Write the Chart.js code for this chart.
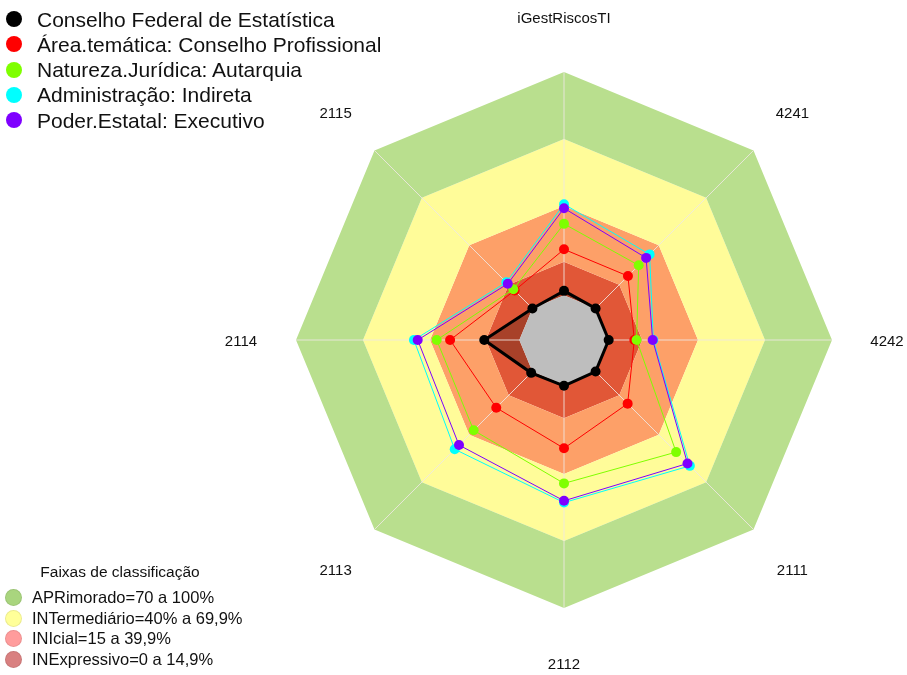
<!DOCTYPE html>
<html>
<head>
<meta charset="utf-8">
<script src="https://cdn.jsdelivr.net/npm/chart.js@4.4.0/dist/chart.umd.min.js"></script>
<style>
  html, body { margin: 0; padding: 0; background: #fff; }
  #wrap { position: relative; width: 907px; height: 675px; font-family: Arial, "Liberation Sans", sans-serif; color: #111; }
  #chart { position: absolute; left: 0; top: 0; }
  .legend { position: absolute; left: 0; }
  .legend .row { position: relative; white-space: nowrap; }
  .legend .dot { position: absolute; border-radius: 50%; }
  #series { top: 6.5px; font-size: 21px; }
  #series .row { height: 25.3px; line-height: 25.3px; padding-left: 37px; }
  #series .dot { left: 6px; top: 4.6px; width: 16px; height: 16px; }
  #bands { top: 558px; font-size: 16.5px; }
  #bands .title { width: 240px; text-align: center; height: 29px; line-height: 27px; font-size: 15.5px; }
  #bands .row { height: 20.5px; line-height: 20.5px; padding-left: 32px; }
  #bands .dot { left: 5px; top: 2px; width: 17px; height: 17px; box-sizing: border-box; border: 1px solid rgba(0,0,0,0.08); }
</style>
</head>
<body>
<div id="wrap">
  <canvas id="chart" width="907" height="675"></canvas>
  <div id="series" class="legend"></div>
  <div id="bands" class="legend"></div>
</div>
<script>
// eixos do radar, em sentido horário a partir do topo
const labels = ['iGestRiscosTI', '4241', '4242', '2111', '2112', '2113', '2114', '2115'];

const seriesNames = [
  'Conselho Federal de Estatística',
  'Área.temática: Conselho Profissional',
  'Natureza.Jurídica: Autarquia',
  'Administração: Indireta',
  'Poder.Estatal: Executivo'
];
const seriesColors = ['#000000', '#FF0000', '#7FFF00', '#00FFFF', '#7F00FF'];

const conselhoFederal = [2, 0, 0, 0, 0.5, 0.8, 15.7, 0];
const conselhoProfissional = [20.6, 20.5, 11.5, 20.3, 28.5, 22.9, 31, 11.3];
const autarquia = [32, 27.3, 12.5, 51, 44.2, 37.2, 37, 12.1];
const indireta = [40.8, 34.2, 20, 59.7, 52.8, 49.2, 47.2, 16.5];
const executivo = [39, 32, 19.7, 58.2, 52, 46.5, 45.5, 15.6];
const seriesValues = [conselhoFederal, conselhoProfissional, autarquia, indireta, executivo];

// faixas de classificação (limite superior -> limite inferior)
const bandNames = ['APRimorado=70 a 100%', 'INTermediário=40% a 69,9%', 'INIcial=15 a 39,9%', 'INExpressivo=0 a 14,9%'];
const bandTops = [100, 70, 40, 15];
const bandBottoms = [70, 40, 15, 0];
const bandFill = ['#B9DF8E', '#FFFC99', '#FDA068', '#E15737'];
const bandLegend = ['#A9D57E', '#FFFF99', '#FF9C9C', '#D98080'];

const scaleMin = -20;
const scaleMax = 100;
const coreLevel = 0;

// legenda das séries
const seriesBox = document.getElementById('series');
seriesNames.forEach((name, i) => {
  const row = document.createElement('div');
  row.className = 'row';
  row.innerHTML = '<span class="dot" style="background:' + seriesColors[i] + '"></span>' + name;
  seriesBox.appendChild(row);
});

// legenda das faixas
const bandsBox = document.getElementById('bands');
bandsBox.innerHTML = '<div class="title">Faixas de classificação</div>';
bandNames.forEach((name, i) => {
  const row = document.createElement('div');
  row.className = 'row';
  row.innerHTML = '<span class="dot" style="background:' + bandLegend[i] + '"></span>' + name;
  bandsBox.appendChild(row);
});

const datasets = [];
// séries: a última fica por cima
seriesValues.forEach((vals, i) => {
  datasets.push({
    label: seriesNames[i],
    data: vals,
    borderColor: seriesColors[i],
    backgroundColor: i === 0 ? 'rgba(0,0,0,0.25)' : 'transparent',
    fill: i === 0 ? 'origin' : false,
    borderWidth: i === 0 ? 3 : 1,
    pointRadius: 5,
    pointBorderWidth: 0,
    pointBackgroundColor: seriesColors[i],
    order: seriesValues.length - i
  });
});
// miolo cinza (abaixo de zero)
datasets.push({
  label: 'core',
  data: labels.map(() => coreLevel),
  borderWidth: 0,
  pointRadius: 0,
  fill: false,
  order: 20
});
// faixas coloridas
bandTops.forEach((top, i) => {
  datasets.push({
    label: bandNames[i],
    data: labels.map(() => top),
    backgroundColor: bandFill[i],
    borderWidth: 0,
    pointRadius: 0,
    fill: { value: bandBottoms[i] },
    order: 30 + i
  });
});
const coreIndex = seriesValues.length;

// preenche o miolo cinza por cima das linhas radiais
const corePlugin = {
  id: 'core',
  beforeDatasetsDraw(chart) {
    const pts = chart.getDatasetMeta(coreIndex).data;
    const ctx = chart.ctx;
    ctx.save();
    ctx.beginPath();
    pts.forEach((p, i) => i ? ctx.lineTo(p.x, p.y) : ctx.moveTo(p.x, p.y));
    ctx.closePath();
    ctx.fillStyle = '#BEBEBE';
    ctx.fill();
    ctx.restore();
  }
};

// rótulos dos eixos centrados fora do octógono
const axisLabels = {
  id: 'axisLabels',
  afterDraw(chart) {
    const scale = chart.scales.r;
    const ctx = chart.ctx;
    ctx.save();
    ctx.font = '15px Arial, "Liberation Sans", sans-serif';
    ctx.fillStyle = '#111';
    ctx.textAlign = 'center';
    ctx.textBaseline = 'middle';
    labels.forEach((lab, i) => {
      const p = scale.getPointPosition(i, scale.drawingArea + 55);
      ctx.fillText(lab, p.x, p.y + 2);
    });
    ctx.restore();
  }
};

new Chart(document.getElementById('chart'), {
  type: 'radar',
  data: { labels: labels, datasets: datasets },
  options: {
    responsive: false,
    animation: false,
    devicePixelRatio: 1,
    layout: { padding: { left: 296, top: 72, right: 75, bottom: 67 } },
    elements: { line: { tension: 0 } },
    plugins: {
      legend: { display: false },
      tooltip: { enabled: false },
      filler: { drawTime: 'beforeDraw' }
    },
    scales: {
      r: {
        min: scaleMin,
        max: scaleMax,
        ticks: { display: false },
        grid: { display: false },
        angleLines: { color: 'rgba(238,232,228,0.85)', lineWidth: 1 },
        pointLabels: { display: false }
      }
    }
  },
  plugins: [corePlugin, axisLabels]
});
</script>
</body>
</html>
